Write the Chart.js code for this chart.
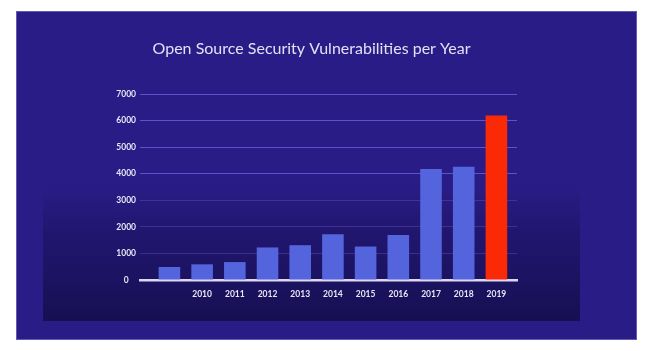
<!DOCTYPE html>
<html>
<head>
<meta charset="utf-8">
<script src="https://cdn.jsdelivr.net/npm/chart.js@4/dist/chart.umd.min.js"></script>
<style>
  html, body { margin: 0; padding: 0; background: #fff; overflow: hidden; }
  #wrap { width: 651px; height: 351px; position: relative; }
</style>
</head>
<body>
<div id="wrap"><canvas id="vulnChart" width="651" height="351"></canvas></div>
<script>
// data (first bar has no year label in the original)
const years = ['', '2010', '2011', '2012', '2013', '2014', '2015', '2016', '2017', '2018', '2019'];
const vulnCounts = [490, 590, 675, 1225, 1310, 1725, 1260, 1690, 4175, 4260, 6190];
const yTicks = [0, 1000, 2000, 3000, 4000, 5000, 6000, 7000];

let blue = '#5464dd';
let red = '#fb2a06';
const barColors = years.map(y => y == '2019' ? red : blue);

// slide background: outer purple card + darker gradient panel
const slideBg = {
  id: 'slideBg',
  beforeDraw(chart) {
    const c = chart.ctx;
    c.save();
    c.fillStyle = '#ffffff';
    c.fillRect(0, 0, chart.width, chart.height);
    c.fillStyle = '#2a1c86';
    c.fillRect(16, 11, 621, 329);
    c.strokeStyle = 'rgba(140,130,210,0.6)';
    c.lineWidth = 1;
    c.strokeRect(16.5, 11.5, 620, 328);
    const g = c.createLinearGradient(0, 185, 0, 321);
    g.addColorStop(0, 'rgba(27,18,95,0)');
    g.addColorStop(0.35, 'rgba(27,18,95,0.6)');
    g.addColorStop(1, 'rgba(23,15,82,1)');
    c.fillStyle = g;
    c.fillRect(43, 185, 537, 136);
    c.restore();
  }
};

const ctx = document.getElementById('vulnChart');
const chart = new Chart(ctx, {
  type: 'bar',
  data: {
    datasets: [{
      data: vulnCounts.map((v, i) => ({ x: i, y: v })),
      backgroundColor: barColors,
      borderWidth: 0,
      categoryPercentage: 1,
      barPercentage: 0.66
    }]
  },
  options: {
    responsive: false,
    animation: false,
    layout: { padding: { left: 106, right: 134, top: 0, bottom: 41 } },
    scales: {
      x: {
        type: 'linear',
        offset: false,
        min: -0.9,
        max: 10.63,
        afterBuildTicks: s => { s.ticks = years.map((_, i) => ({ value: i })); },
        afterFit: s => { s.height = 30; },
        grid: { display: false, drawTicks: false, offset: false },
        border: { display: true, color: '#dcd8f2', width: 2.5 },
        ticks: {
          padding: 9,
          color: '#e8e6f6',
          font: { family: 'Lato', weight: 'bold', size: 8.5 },
          callback: v => years[v] ?? ''
        }
      },
      y: {
        min: 0,
        max: 7000,
        afterBuildTicks: s => { s.ticks = yTicks.map(v => ({ value: v })); },
        afterFit: s => { s.width = 34; },
        grid: {
          drawTicks: false,
          lineWidth: 1,
          color: c => c.tick && c.tick.value >= 4000 ? 'rgba(112,100,225,0.75)' : 'rgba(90,80,190,0.45)'
        },
        border: { display: false },
        ticks: {
          padding: 4,
          crossAlign: 'center',
          color: '#e8e6f6',
          font: { family: 'Lato', weight: 'bold', size: 8.5 },
          callback: v => String(v)
        }
      }
    },
    plugins: {
      legend: { display: false },
      tooltip: { enabled: false },
      title: {
        display: true,
        text: 'Open Source Security Vulnerabilities per Year',
        color: '#e4e0f6',
        font: { family: 'Lato', weight: 'normal', size: 16, lineHeight: 1.2 },
        padding: { top: 39, bottom: 35.8 }
      }
    }
  },
  plugins: [slideBg]
});
</script>
</body>
</html>
